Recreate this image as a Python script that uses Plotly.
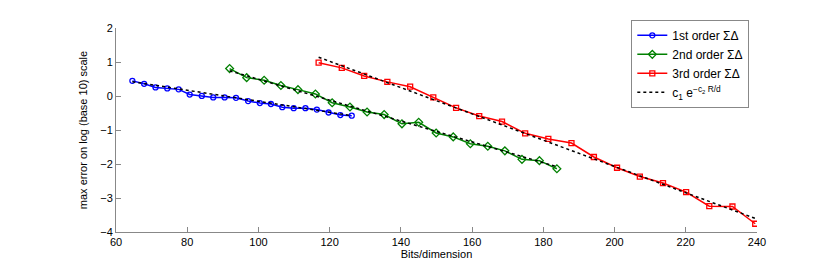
import plotly.graph_objects as go

# ---- data ----
x_first = [64.6, 67.9, 71.1, 74.4, 77.6, 80.7, 84.1, 87.3, 90.5, 93.7,
           97.1, 100.4, 103.5, 106.7, 109.9, 113.2, 116.4, 119.7, 123.0, 126.2]
y_first = [0.445, 0.359, 0.253, 0.224, 0.195, 0.043, 0.003, -0.043, -0.043, -0.055,
           -0.149, -0.207, -0.235, -0.330, -0.359, -0.359, -0.399, -0.485, -0.560, -0.580]

x_second = [91.9, 96.7, 101.6, 106.3, 111.1, 116.0, 120.7, 125.7, 130.5, 135.3,
            140.3, 145.0, 149.9, 154.7, 159.5, 164.4, 169.2, 174.0, 178.9, 183.8]
y_second = [0.807, 0.540, 0.462, 0.310, 0.187, 0.060, -0.198, -0.322, -0.471, -0.546,
            -0.818, -0.772, -1.088, -1.203, -1.404, -1.479, -1.613, -1.863, -1.901, -2.139]

x_third = [116.9, 123.4, 129.7, 136.2, 142.6, 149.1, 155.5, 162.0, 168.4, 174.9,
           181.4, 187.9, 194.2, 200.7, 207.1, 213.6, 220.1, 226.6, 233.1, 239.5]
y_third = [0.979, 0.827, 0.589, 0.416, 0.273, -0.043, -0.350, -0.589, -0.752, -1.097,
           -1.263, -1.384, -1.794, -2.110, -2.369, -2.561, -2.828, -3.241, -3.250, -3.758]

# fitted lines c1*exp(-c2 R/d) on log10 scale (endpoints)
fit1_x = [64.6, 126.2]
fit1_y = [0.42, -0.58]
fit2_x = [91.9, 183.8]
fit2_y = [0.74, -2.08]
fit3_x = [116.9, 239.5]
fit3_y = [1.14, -3.60]

x_ticks = [60, 80, 100, 120, 140, 160, 180, 200, 220, 240]
y_ticks = [-4, -3, -2, -1, 0, 1, 2]

FONT = "Liberation Sans, Arial, sans-serif"

fig = go.Figure()
fig.add_trace(go.Scatter(x=x_first, y=y_first, mode="lines+markers",
                         name="1st order ΣΔ",
                         line=dict(color="#0000ff", width=1.5),
                         marker=dict(symbol="circle-open", size=5, color="#0000ff",
                                     line=dict(width=1.3))))
fig.add_trace(go.Scatter(x=x_second, y=y_second, mode="lines+markers",
                         name="2nd order ΣΔ",
                         line=dict(color="#008000", width=1.5),
                         marker=dict(symbol="diamond-open", size=6, color="#008000",
                                     line=dict(width=1.3))))
fig.add_trace(go.Scatter(x=x_third, y=y_third, mode="lines+markers",
                         name="3rd order ΣΔ",
                         line=dict(color="#ff0000", width=1.5),
                         marker=dict(symbol="square-open", size=5, color="#ff0000",
                                     line=dict(width=1.3))))

fit_style = dict(color="black", width=1.5, dash="3px,3px")
fig.add_trace(go.Scatter(x=fit1_x, y=fit1_y, mode="lines",
                         name="c<sub>1</sub> e<sup>−c<sub>2</sub> R/d</sup>",
                         legendgroup="fit", line=fit_style))
fig.add_trace(go.Scatter(x=fit2_x, y=fit2_y, mode="lines", showlegend=False,
                         legendgroup="fit", line=fit_style))
fig.add_trace(go.Scatter(x=fit3_x, y=fit3_y, mode="lines", showlegend=False,
                         legendgroup="fit", line=fit_style))

axis_common = dict(showgrid=False, zeroline=False, showline=True,
                   linecolor="#888888", linewidth=1, ticks="inside",
                   ticklen=5, tickcolor="#888888", mirror=False,
                   tickfont=dict(family=FONT, size=11, color="black"))

fig.update_xaxes(range=[60, 240], tickvals=x_ticks,
                 title=dict(text="Bits/dimension", standoff=0,
                            font=dict(family=FONT, size=11, color="black")),
                 **axis_common)
fig.update_yaxes(range=[-4, 2], tickvals=y_ticks,
                 title=dict(text="max error on log (base 10) scale", standoff=10,
                            font=dict(family=FONT, size=11, color="black")),
                 **axis_common)

fig.update_layout(
    width=830, height=260,
    margin=dict(l=108, r=81, t=20, b=31),
    plot_bgcolor="white", paper_bgcolor="white",
    font=dict(family=FONT, size=11, color="black"),
    legend=dict(x=0.988, xanchor="right", y=1.04, yanchor="top",
                bordercolor="#888888", borderwidth=1, bgcolor="white",
                font=dict(family=FONT, size=12), tracegroupgap=0,
                itemwidth=30),
)

fig.write_html("out.html")
